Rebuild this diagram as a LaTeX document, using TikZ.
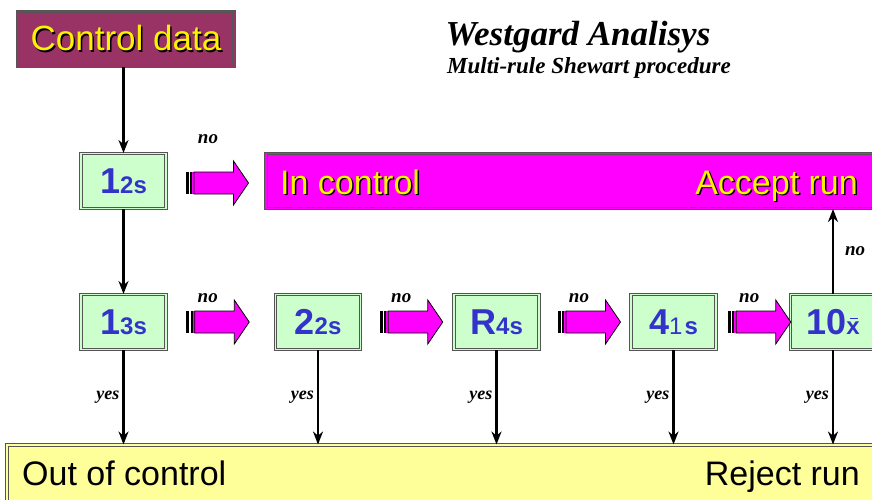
\documentclass[tikz,border=0pt]{standalone}
\usepackage{fontspec}
\setmainfont{Liberation Sans}
\newfontfamily\titleserif{Liberation Serif}
\usetikzlibrary{arrows.meta, calc}

\definecolor{plum}{HTML}{993366}
\definecolor{fuchsia}{HTML}{FF00FF}
\definecolor{rulegreen}{HTML}{CCFFCC}
\definecolor{ruleblue}{HTML}{3333CC}
\definecolor{lemon}{HTML}{FFFF99}
\definecolor{frame}{HTML}{555555}

% testo giallo con ombra nera
\newcommand{\shadowed}[1]{\makebox[0pt][l]{\hspace{1.5pt}\raisebox{-1.5pt}{\color{black}#1}}#1}
\newcommand{\bigfs}{\fontsize{36}{36}\selectfont}
\newcommand{\smallfs}{\fontsize{24}{24}\selectfont}
\newcommand{\xbar}{\makebox[0pt][l]{\hspace{3.5pt}\raisebox{15pt}{\rule{8pt}{1.8pt}}}x}

\tikzset{
  framed/.style={draw=frame, line width=1pt, double distance=1.6pt},
  rulebox/.style={framed, double=rulegreen, fill=rulegreen, minimum width=85pt,
    minimum height=55pt, inner sep=0pt, text=ruleblue, font=\bfseries},
  ctrlbox/.style={framed, double=plum, fill=plum, minimum width=216pt,
    minimum height=55pt, inner sep=0pt, text=yellow, font=\fontsize{35}{35}\selectfont},
  acceptbox/.style={framed, double=fuchsia, fill=fuchsia, minimum width=630pt,
    minimum height=55pt, inner sep=0pt},
  rejectbox/.style={framed, double=lemon, fill=lemon, minimum width=900pt,
    minimum height=62pt, inner sep=0pt},
  bigtext/.style={inner sep=0pt, font=\fontsize{34}{34}\selectfont},
  nolbl/.style={font=\titleserif\bfseries\itshape\fontsize{19}{19}\selectfont, inner sep=1pt},
  yeslbl/.style={font=\titleserif\bfseries\itshape\fontsize{18}{18}\selectfont, inner sep=3pt},
  arr/.style={line width=2.2pt, ->},
  pics/noarrow/.style={code={
    \fill[black] (-31.5,-11) rectangle (-28.5,11);
    \fill[black] (-27,-11) rectangle (-25,11);
    \fill[fuchsia] (-25,-11) rectangle (-23,11);
    \filldraw[fill=fuchsia, draw=black, line width=0.8pt]
      (-23,-11) -- (16.5,-11) -- (16.5,-22) -- (31.5,0) -- (16.5,22) -- (16.5,11) -- (-23,11) -- cycle;
  }}
}

\begin{document}
\begin{tikzpicture}[x=1pt,y=-1pt,>={Stealth[length=13pt,width=10pt]}]

\useasboundingbox (0,0) rectangle (872,500);
\clip (0,0) rectangle (872,500);

% Coordinate delle righe
\def\rowA{181}
\def\rowB{322}

% --- Titolo
\node[font=\titleserif\bfseries\itshape\fontsize{35}{35}\selectfont, anchor=base] (title) at (578,46) {Westgard Analisys};
\node[font=\titleserif\bfseries\itshape\fontsize{23}{23}\selectfont, anchor=base] (subtitle) at (589,74) {Multi-rule Shewart procedure};

% --- Caselle
\node[ctrlbox] (ctrl) at (126,39) {\shadowed{Control data}};
\node[rulebox] (r12) at (123.5,\rowA) {{\bigfs 1}{\smallfs 2s}};
\node[acceptbox, anchor=west] (inctrl) at (265.5,\rowA) {};
\node[rulebox] (r13) at (123.5,\rowB) {{\bigfs 1}{\smallfs 3s}};
\node[rulebox] (r22) at (318,\rowB) {{\bigfs 2}{\smallfs 2s}};
\node[rulebox] (rR4) at (496.5,\rowB) {{\bigfs R}{\smallfs 4s}};
\node[rulebox] (r41) at (673.5,\rowB) {{\bigfs 4}{\smallfs\mdseries 1}\hspace{2pt}{\smallfs s}};
\node[rulebox] (r10) at (833,\rowB) {{\bigfs 10}{\smallfs\xbar}};
\node[rejectbox, anchor=north west] (out) at (6.5,444.5) {};

% --- Testi nelle barre
\node[bigtext, text=yellow, anchor=base west] (inlbl) at (280,194) {\shadowed{In control}};
\node[bigtext, text=yellow, anchor=base east] (acclbl) at (858,194) {\shadowed{Accept run}};
\node[bigtext, anchor=base west] (outlbl) at (22,485) {Out of control};
\node[bigtext, anchor=base east] (rejlbl) at (860,485) {Reject run};

% --- Frecce verticali
\draw[arr] (ctrl.south -| r12) -- (r12.north);
\draw[arr] (r12.south) -- (r13.north);
\draw[arr] (r10.north) -- (r10.north |- inctrl.south)
  node[midway, right, nolbl, xshift=10pt] (noup) {no};
\foreach \r in {r13,r22,rR4,r41,r10}
  \draw[arr] (\r.south) -- (\r.south |- out.north)
    node[midway, left, yeslbl] {yes};

% --- Frecce "no"
\coordinate (a1) at ($(r12.east)!0.5!(inctrl.west)+(1,2)$);
\coordinate (a2) at ($(r13.east)!0.5!(r22.west)+(-3,0)$);
\coordinate (a3) at ($(r22.east)!0.5!(rR4.west)+(4,0)$);
\coordinate (a4) at ($(rR4.east)!0.5!(r41.west)+(4,0)$);
\coordinate (a5) at ($(r41.east)!0.5!(r10.west)+(6,0)$);
\pic at (a1) {noarrow};
\node[nolbl] (no1) at ($(a1)+(-9,-44)$) {no};
\foreach \a in {a2,a3,a4,a5}{
  \pic at (\a) {noarrow};
  \node[nolbl] at ($(\a)+(-10,-24)$) {no};
}

\end{tikzpicture}
\end{document}
